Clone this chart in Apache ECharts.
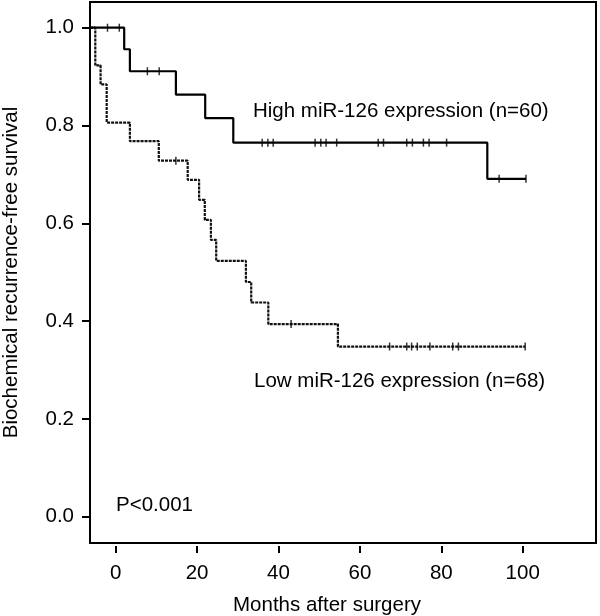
<!DOCTYPE html>
<html>
<head>
<meta charset="utf-8">
<script src="https://cdn.jsdelivr.net/npm/echarts@6/dist/echarts.min.js"></script>
<style>
html,body{margin:0;padding:0;background:#fff;}
#chart{width:600px;height:616px;}
</style>
</head>
<body>
<div id="chart"></div>
<script>
// Kaplan-Meier step data (months, survival)
var highTimes = [-6.3, 2.1, 3.5, 14.8, 22.0, 28.9, 91.3, 100.8];
var highSurv  = [1.0, 0.956, 0.911, 0.863, 0.815, 0.765, 0.691, 0.691];
var lowTimes  = [-6.3, -5.0, -3.7, -2.2, 3.5, 10.6, 17.7, 20.5, 21.9, 23.4, 24.7, 32.0, 33.3, 37.5, 54.6, 100.6];
var lowSurv   = [1.0, 0.923, 0.884, 0.806, 0.768, 0.728, 0.689, 0.648, 0.607, 0.566, 0.523, 0.480, 0.438, 0.394, 0.348, 0.348];
// censored observations
var highCensorTimes = [-2.0, 0.9, 7.8, 10.7, 36.0, 37.4, 38.7, 49.0, 50.4, 51.7, 54.3, 64.5, 65.8, 71.5, 72.9, 75.6, 77.0, 81.3, 94.2, 100.8];
var highCensorSurv  = [1.0, 1.0, 0.911, 0.911, 0.765, 0.765, 0.765, 0.765, 0.765, 0.765, 0.765, 0.765, 0.765, 0.765, 0.765, 0.765, 0.765, 0.765, 0.691, 0.691];
var lowCensorTimes = [14.8, 43.1, 67.3, 71.5, 72.7, 74.1, 77.2, 82.8, 84.2, 100.6];
var lowCensorSurv  = [0.728, 0.394, 0.348, 0.348, 0.348, 0.348, 0.348, 0.348, 0.348, 0.348];
// axis ticks
var xTickValues = [0, 20, 40, 60, 80, 100];
var yTickValues = [0, 0.2, 0.4, 0.6, 0.8, 1.0];
// texts
var xTitle = 'Months after surgery';
var yTitle = 'Biochemical recurrence-free survival';
var highLabel = 'High miR-126 expression (n=60)';
var lowLabel = 'Low miR-126 expression (n=68)';
var pLabel = 'P<0.001';

function zip(a, b) { return a.map(function (v, i) { return [v, b[i]]; }); }

var FONT = '"Liberation Sans", Arial, sans-serif';
var FS = 20.5;

var chart = echarts.init(document.getElementById('chart'), null, {renderer: 'canvas'});
chart.setOption({
  animation: false,
  backgroundColor: '#fff',
  grid: {left: 90, right: 4, top: 2, bottom: 73, show: true, borderColor: '#000', borderWidth: 2,
    backgroundColor: 'transparent', containLabel: false, outerBoundsMode: 'none'},
  xAxis: {
    type: 'value', min: -6.3, max: 118, offset: 3,
    axisLine: {show: false, onZero: false},
    splitLine: {show: false},
    axisTick: {show: true, length: 7, lineStyle: {color: '#000', width: 2}, customValues: xTickValues},
    axisLabel: {customValues: xTickValues, color: '#000', fontFamily: FONT, fontSize: FS, margin: 17},
    name: xTitle, nameLocation: 'middle', nameGap: 49,
    nameTextStyle: {color: '#000', fontFamily: FONT, fontSize: FS, padding: [0, 32, 0, 0]}
  },
  yAxis: {
    type: 'value', min: -0.0538, max: 1.0526,
    axisLine: {show: false, onZero: false},
    splitLine: {show: false},
    axisTick: {show: true, length: 8, lineStyle: {color: '#000', width: 2}, customValues: yTickValues},
    axisLabel: {customValues: yTickValues, color: '#000', fontFamily: FONT, fontSize: FS, margin: 16,
      formatter: function (v) { return v.toFixed(1); }},
    name: yTitle, nameLocation: 'middle', nameGap: 68,
    nameTextStyle: {color: '#000', fontFamily: FONT, fontSize: FS}
  },
  series: [
    {type: 'line', step: 'end', data: zip(lowTimes, lowSurv), showSymbol: false, symbol: 'none',
      lineStyle: {color: '#111', width: 2.2, type: [3, 1]}, z: 2},
    {type: 'line', step: 'end', data: zip(highTimes, highSurv), showSymbol: false, symbol: 'none',
      lineStyle: {color: '#000', width: 2.2}, z: 3},
    {type: 'scatter', data: zip(highCensorTimes, highCensorSurv), symbol: 'rect', symbolSize: [1.5, 8],
      itemStyle: {color: '#000'}, z: 4},
    {type: 'scatter', data: zip(lowCensorTimes, lowCensorSurv), symbol: 'rect', symbolSize: [1.5, 8],
      itemStyle: {color: '#000'}, z: 4}
  ],
  graphic: [
    {type: 'text', left: 253, top: 101, style: {text: highLabel, fill: '#000', font: FS + 'px ' + FONT}},
    {type: 'text', left: 254, top: 371, style: {text: lowLabel, fill: '#000', font: FS + 'px ' + FONT}},
    {type: 'text', left: 116, top: 495, style: {text: pLabel, fill: '#000', font: FS + 'px ' + FONT}}
  ]
});
</script>
</body>
</html>
